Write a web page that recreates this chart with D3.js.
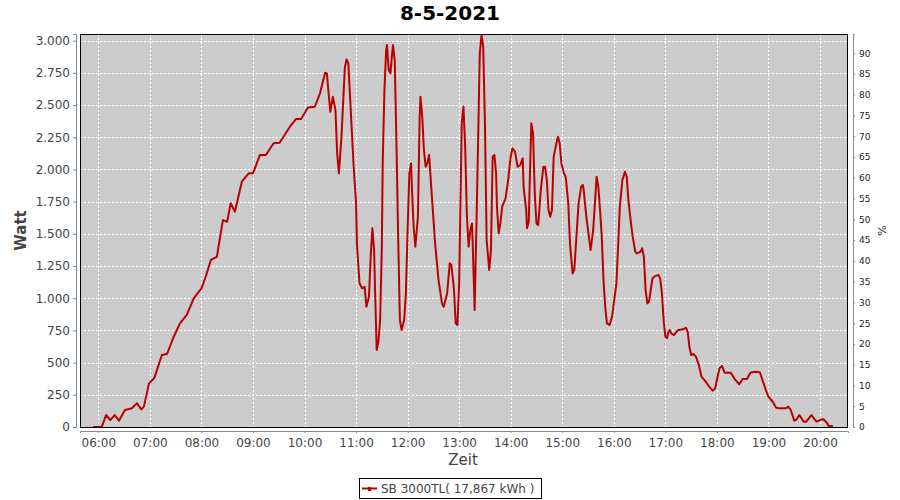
<!DOCTYPE html>
<html>
<head>
<meta charset="utf-8">
<script src="https://cdn.jsdelivr.net/npm/d3@7"></script>
<style>
  body { margin: 0; background: #fff; }
  text { font-family: "DejaVu Sans", sans-serif; }
</style>
</head>
<body>
<div id="chart"></div>
<script>

// measured power of the inverter, time of day and watt
const times = [
  "05:54","06:00","06:04","06:09","06:14","06:19","06:24","06:31","06:39","06:45","06:50","06:53","06:59",
  "07:05","07:14","07:20","07:27","07:35","07:43","07:51","08:00","08:05","08:11","08:18","08:25","08:30",
  "08:34","08:39","08:47","08:55","09:00","09:08","09:15","09:24","09:31","09:43","09:50","09:56","10:04",
  "10:12","10:18","10:24","10:26","10:30","10:33","10:36","10:38","10:40","10:43","10:47","10:49","10:51",
  "10:54","10:57","11:00","11:01","11:04","11:07","11:10","11:12","11:15","11:17","11:19","11:21","11:22",
  "11:24","11:26","11:28","11:30","11:31","11:33","11:35","11:36","11:38","11:40","11:42","11:43","11:45",
  "11:47","11:49","11:51","11:53","11:56","11:58","12:00","12:02","12:04","12:05","12:07","12:09","12:12",
  "12:14","12:15","12:17","12:19","12:21","12:23","12:25","12:28","12:32","12:36","12:40","12:42","12:46",
  "12:49","12:51","12:54","12:56","12:58","13:00","13:03","13:05","13:07","13:09","13:11","13:13","13:15",
  "13:16","13:18","13:20","13:22","13:24","13:26","13:28","13:30","13:32","13:35","13:37","13:39","13:41",
  "13:43","13:44","13:46","13:48","13:50","13:54","13:57","14:00","14:02","14:05","14:08","14:11","14:14",
  "14:15","14:18","14:19","14:21","14:23","14:24","14:26","14:28","14:30","14:32","14:35","14:38","14:40",
  "14:42","14:44","14:46","14:48","14:50","14:54","14:55","14:57","14:59","15:02","15:04","15:07","15:09",
  "15:12","15:14","15:16","15:19","15:22","15:24","15:25","15:28","15:31","15:33","15:36","15:38","15:40",
  "15:42","15:44","15:46","15:48","15:50","15:52","15:55","15:58","16:00","16:03","16:05","16:07","16:10",
  "16:13","16:15","16:17","16:20","16:22","16:25","16:27","16:31","16:33","16:35","16:37","16:39","16:41",
  "16:43","16:45","16:48","16:52","16:54","16:56","16:58","17:00","17:02","17:03","17:05","17:07","17:10",
  "17:13","17:15","17:21","17:24","17:26","17:28","17:30","17:33","17:36","17:39","17:42","17:47","17:51",
  "17:55","17:58","18:00","18:03","18:06","18:09","18:16","18:21","18:26","18:30","18:35","18:39","18:44",
  "18:50","18:53","18:57","19:00","19:05","19:09","19:13","19:20","19:23","19:26","19:30","19:33","19:36",
  "19:41","19:44","19:50","19:56","20:00","20:04","20:08","20:10","20:15"
];
const watt = [
  0,0,0,93,54,93,49,132,145,184,137,158,339,
  378,559,567,689,805,870,999,1077,1167,1297,1322,1607,1594,
  1737,1672,1905,1970,1970,2112,2112,2203,2207,2332,2391,2391,2482,
  2487,2591,2751,2746,2448,2565,2461,2125,1970,2254,2797,2855,2824,
  2436,2047,1737,1426,1116,1077,1089,934,1012,1322,1543,1374,1089,
  598,662,831,1400,2047,2616,2927,2966,2772,2746,2901,2966,2849,
  2203,1478,831,753,831,1038,1530,1970,2047,1866,1555,1400,1633,
  2409,2565,2409,2151,2021,2047,2112,1814,1426,1141,960,934,1038,
  1271,1258,1064,805,792,1116,2358,2487,2176,1633,1400,1530,1581,
  1374,908,1530,2203,2901,3043,2953,2358,1452,1219,1374,2099,2112,
  1970,1710,1504,1581,1710,1775,1918,2099,2164,2138,2021,2034,2086,
  1866,1685,1543,1594,2125,2358,2280,1814,1581,1568,1840,2021,2021,
  1918,1685,1633,1685,2099,2228,2254,2203,2047,1970,1944,1737,1426,
  1193,1219,1426,1737,1866,1879,1840,1633,1478,1374,1530,1737,1944,
  1866,1685,1478,1141,934,805,792,857,960,1116,1400,1710,1918,
  1982,1944,1762,1581,1478,1361,1348,1361,1387,1322,1064,960,973,
  1064,1154,1172,1180,1154,1038,831,701,689,727,753,727,714,
  740,753,759,771,740,623,559,567,541,481,391,352,313,
  282,300,365,456,474,422,422,370,332,373,373,422,429,
  425,365,287,235,196,150,145,145,158,132,49,60,93,
  41,41,93,41,54,60,33,8,8
];

const hourTicks = ["06:00","07:00","08:00","09:00","10:00","11:00","12:00","13:00",
                   "14:00","15:00","16:00","17:00","18:00","19:00","20:00"];
const wattTicks = [0,250,500,750,1000,1250,1500,1750,2000,2250,2500,2750,3000];
const percentTicks = [0,5,10,15,20,25,30,35,40,45,50,55,60,65,70,75,80,85,90];

const title = "8-5-2021";
const seriesName = "SB 3000TL( 17,867 kWh )";

const width = 900, height = 500;
const plot = {left: 80, right: 848, top: 34, bottom: 427};
const lineColor = "#bb0000";
const labelColor = "#444444";

const parseTime = d3.timeParse("%H:%M");
const parseSec = d3.timeParse("%H:%M:%S");
const de = d3.formatLocale({decimal: ",", thousands: ".", grouping: [3], currency: ["", "€"]});

let data = times.map((t, i) => ({time: parseTime(t), value: watt[i]}));

let x = d3.scaleTime()
    .domain([parseSec("05:38:40"), parseSec("20:32:36")])
    .range([plot.left, plot.right]);
let y = d3.scaleLinear().domain([0, 3052]).range([plot.bottom, plot.top]);
let yPct = d3.scaleLinear().domain([0, 94.6]).range([plot.bottom, plot.top]);

let svg = d3.select("#chart")
            .append("svg")
                .attr("width", width)
                .attr("height", height);

svg.append("rect").attr("width", width).attr("height", height).attr("fill", "#fff");

// plot background
svg.append("rect")
    .attr("x", plot.left).attr("y", plot.top)
    .attr("width", plot.right - plot.left)
    .attr("height", plot.bottom - plot.top)
    .attr("fill", "#cccccc");

// grid
let grid = svg.append("g").attr("stroke", "#ffffff").attr("stroke-width", 1)
              .attr("stroke-dasharray", "2,2");
grid.selectAll(".vgrid").data(hourTicks).enter()
    .append("line")
        .attr("x1", d => Math.round(x(parseTime(d))) + 0.5)
        .attr("x2", d => Math.round(x(parseTime(d))) + 0.5)
        .attr("y1", plot.top).attr("y2", plot.bottom);
grid.selectAll(".hgrid").data(wattTicks).enter()
    .append("line")
        .attr("x1", plot.left).attr("x2", plot.right)
        .attr("y1", d => Math.round(y(d)) + 0.5)
        .attr("y2", d => Math.round(y(d)) + 0.5);

// line
let line = d3.line().x(d => x(d.time)).y(d => y(d.value));
svg.append("path")
    .datum(data)
    .attr("d", line)
    .attr("fill", "none")
    .attr("stroke", lineColor)
    .attr("stroke-width", 2)
    .attr("stroke-linejoin", "round");

// plot border
svg.append("rect")
    .attr("x", plot.left + 0.5).attr("y", plot.top + 0.5)
    .attr("width", plot.right - plot.left - 1)
    .attr("height", plot.bottom - plot.top)
    .attr("fill", "none")
    .attr("stroke", "#000");

// axes, offset a few pixels from the plot like the original
let xAxis = d3.axisBottom(x)
    .tickValues(hourTicks.map(parseTime))
    .tickFormat(d3.timeFormat("%H:%M"))
    .tickSizeOuter(0).tickSize(2).tickPadding(5);
let yAxis = d3.axisLeft(y)
    .tickValues(wattTicks)
    .tickFormat(de.format(",d"))
    .tickSizeOuter(0).tickSize(3).tickPadding(3);
let pAxis = d3.axisRight(yPct)
    .tickValues(percentTicks)
    .tickSizeOuter(0).tickSize(2).tickPadding(4);

let gx = svg.append("g").attr("transform", "translate(0," + (plot.bottom + 4) + ")").call(xAxis);
gx.selectAll("text").attr("font-size", 12).attr("fill", labelColor).attr("font-family", "DejaVu Sans");

let gy = svg.append("g").attr("transform", "translate(" + (plot.left - 4) + ",0)").call(yAxis);
gy.selectAll("text").attr("font-size", 12).attr("fill", labelColor).attr("font-family", "DejaVu Sans");

let gp = svg.append("g").attr("transform", "translate(" + (plot.right + 5) + ",0)").call(pAxis);
gp.selectAll("text").attr("font-size", 9).attr("fill", "#222").attr("font-family", "DejaVu Sans");

svg.selectAll(".domain, .tick line").attr("stroke", "#888");

// labels
svg.append("text")
    .attr("x", width / 2).attr("y", 20)
    .attr("text-anchor", "middle")
    .attr("font-size", 20).attr("font-weight", "bold")
    .attr("fill", "#000")
    .text(title);

svg.append("text")
    .attr("transform", "translate(26," + ((plot.top + plot.bottom) / 2) + ") rotate(-90)")
    .attr("text-anchor", "middle")
    .attr("font-size", 15).attr("font-weight", "bold")
    .attr("fill", labelColor)
    .text("Watt");

svg.append("text")
    .attr("x", 463).attr("y", 465)
    .attr("text-anchor", "middle")
    .attr("font-size", 15)
    .attr("fill", labelColor)
    .text("Zeit");

svg.append("text")
    .attr("transform", "translate(886," + ((plot.top + plot.bottom) / 2) + ") rotate(-90)")
    .attr("text-anchor", "middle")
    .attr("font-size", 11)
    .attr("fill", "#222")
    .text("%");

// legend
let legend = svg.append("g");
legend.append("rect")
    .attr("x", 359.5).attr("y", 478.5).attr("width", 182).attr("height", 20)
    .attr("fill", "#fff").attr("stroke", "#000");
legend.append("line")
    .attr("x1", 362).attr("x2", 377).attr("y1", 488.5).attr("y2", 488.5)
    .attr("stroke", lineColor).attr("stroke-width", 2);
legend.append("rect")
    .attr("x", 368).attr("y", 487).attr("width", 3).attr("height", 4)
    .attr("fill", lineColor);
legend.append("text")
    .attr("x", 381).attr("y", 493)
    .attr("font-size", 12)
    .attr("fill", labelColor)
    .text(seriesName);

</script>
</body>
</html>
